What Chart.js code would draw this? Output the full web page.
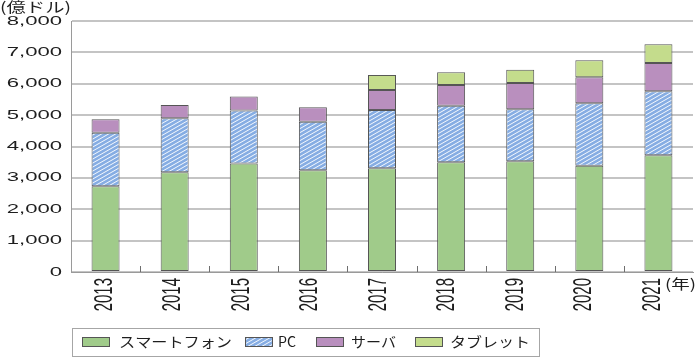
<!DOCTYPE html>
<html>
<head>
<meta charset="utf-8">
<script src="https://cdn.jsdelivr.net/npm/chart.js@4"></script>
<style>
  body { margin: 0; background: #fff; }
  #wrap { width: 700px; height: 359px; }
</style>
</head>
<body>
<div id="wrap"><canvas id="chart" width="700" height="359"></canvas></div>
<script>
// Data (億ドル)
const years = ['2013', '2014', '2015', '2016', '2017', '2018', '2019', '2020', '2021'];
const smartphone = [2730, 3180, 3460, 3240, 3310, 3500, 3530, 3390, 3720];
const pc = [1710, 1720, 1690, 1550, 1850, 1800, 1660, 1990, 2040];
const server = [430, 420, 440, 460, 640, 660, 830, 830, 900];
const tablet = [null, null, null, null, 480, 410, 430, 540, 600];
const seriesNames = ['スマートフォン', 'PC', 'サーバ', 'タブレット'];
const unitLabel = '(億ドル)';
const yearLabel = '(年)';

const JP = '"Noto Sans CJK JP", "Noto Sans", sans-serif';
const EDGE = '#555555';

// blue hatch for PC
function makeHatch() {
  const c = document.createElement('canvas');
  c.width = 7; c.height = 4;
  const g = c.getContext('2d');
  g.fillStyle = '#86ade3';
  g.fillRect(0, 0, 7, 4);
  g.strokeStyle = '#f4f8fd';
  g.lineWidth = 1;
  g.beginPath();
  g.moveTo(0, 4); g.lineTo(7, 0);
  g.moveTo(-1, 0.57); g.lineTo(1, -0.57);
  g.moveTo(6, 4.57); g.lineTo(8, 3.43);
  g.stroke();
  return g.createPattern(c, 'repeat');
}

const ctx = document.getElementById('chart').getContext('2d');
const hatch = makeHatch();
const fills = ['#a0cb8a', hatch, '#b98fbe', '#c4dc8c'];

// text squeezed/stretched to a given width
function fitText(g, text, left, midY, width) {
  const w = g.measureText(text).width;
  g.save();
  g.translate(left, midY);
  g.scale(width / w, 1);
  g.textAlign = 'left';
  g.textBaseline = 'middle';
  g.fillText(text, 0, 0);
  g.restore();
}

const textPlugin = {
  id: 'textPlugin',
  afterDraw(chart) {
    const g = chart.ctx;
    const xs = chart.scales.x;
    const ys = chart.scales.y;
    const area = chart.chartArea;
    g.save();

    // inside tick marks on the category axis
    const step = area.width / years.length;
    g.strokeStyle = '#6e6e6e';
    g.lineWidth = 1;
    g.beginPath();
    for (let i = 1; i < years.length; i++) {
      const x = Math.round(area.left + i * step) + 0.5;
      g.moveTo(x, area.bottom - 6);
      g.lineTo(x, area.bottom);
    }
    g.stroke();

    g.fillStyle = '#1e1e1e';

    // y tick labels
    g.font = '13px "Liberation Sans", sans-serif';
    ys.ticks.forEach(t => {
      const y = ys.getPixelForValue(t.value);
      g.save();
      g.translate(62, y);
      g.scale(1.7, 1);
      g.textAlign = 'right';
      g.textBaseline = 'middle';
      g.fillText(t.value.toLocaleString('en-US'), 0, 0);
      g.restore();
    });

    // x labels, rotated
    g.font = '15px "Liberation Sans", sans-serif';
    years.forEach((yr, i) => {
      const x = xs.getPixelForValue(i) - 1 - i * 0.6;
      g.save();
      g.translate(x, 278);
      g.scale(1.7, 1);
      g.rotate(-Math.PI / 2);
      g.textAlign = 'right';
      g.textBaseline = 'middle';
      g.fillText(yr, 0, 0);
      g.restore();
    });

    // unit labels
    g.font = '14px ' + JP;
    fitText(g, unitLabel, 0, 7, 71);
    fitText(g, yearLabel, 665, 284, 31);

    // legend
    g.strokeStyle = '#a6a6a6';
    g.lineWidth = 1;
    g.strokeRect(72.5, 328.5, 467, 28);
    const swX = [82, 245, 316, 415];
    const txX = [119, 278, 351, 450];
    const txW = [113, 18, 45, 80];
    chart.data.datasets.forEach((ds, i) => {
      g.fillStyle = ds.backgroundColor;
      g.fillRect(swX[i], 337, 28, 10);
      g.strokeStyle = EDGE;
      g.strokeRect(swX[i] + 0.5, 337.5, 27, 9);
      g.fillStyle = '#1e1e1e';
      g.font = '14px ' + JP;
      fitText(g, ds.label, txX[i], 342, txW[i]);
    });

    g.restore();
  }
};

new Chart(ctx, {
  type: 'bar',
  data: {
    labels: years,
    datasets: [smartphone, pc, server, tablet].map((vals, i) => ({
      label: seriesNames[i],
      data: vals,
      backgroundColor: fills[i],
      borderColor: EDGE,
      borderWidth: 1,
      borderSkipped: false,
      categoryPercentage: 1,
      barPercentage: 0.405
    }))
  },
  options: {
    responsive: false,
    animation: false,
    layout: { padding: { top: 21, right: 7, left: 0, bottom: 0 } },
    plugins: {
      legend: { display: false },
      tooltip: { enabled: false }
    },
    scales: {
      x: {
        stacked: true,
        afterFit(scale) { scale.height = 87; },
        ticks: { display: false },
        grid: { display: false },
        border: { display: true, color: '#9a9a9a', width: 1 }
      },
      y: {
        stacked: true,
        min: 0,
        max: 8000,
        afterFit(scale) { scale.width = 71; },
        ticks: { display: false, stepSize: 1000 },
        grid: { color: '#c4c4c4', lineWidth: 2, drawTicks: false },
        border: { display: true, color: '#9a9a9a', width: 1 }
      }
    }
  },
  plugins: [textPlugin]
});
</script>
</body>
</html>
